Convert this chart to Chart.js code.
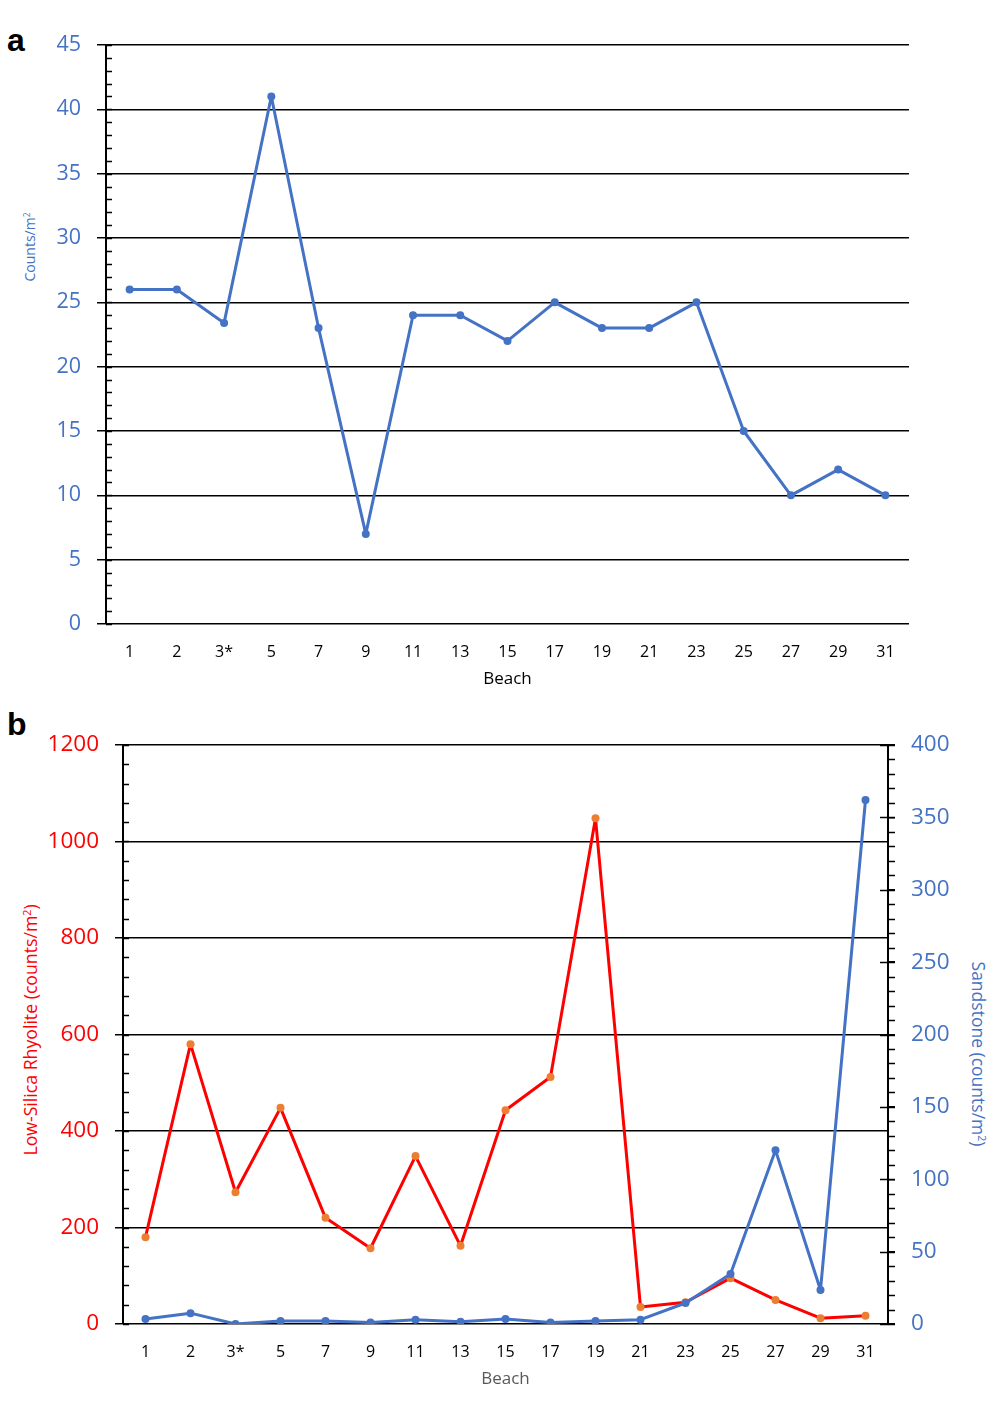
<!DOCTYPE html>
<html>
<head>
<meta charset="utf-8">
<script src="https://cdn.jsdelivr.net/npm/chart.js@4"></script>
<style>
  html, body { margin:0; padding:0; background:#fff; }
  body { width:992px; height:1421px; position:relative; overflow:hidden; font-family:"Open Sans", sans-serif; }
  .box { position:absolute; left:0; width:992px; }
  .lbl { position:absolute; font-family:"Liberation Sans", Arial, sans-serif; font-weight:bold; font-size:32px; color:#000; line-height:1; }
  .ytitle { position:absolute; white-space:nowrap; font-family:"Open Sans", sans-serif; line-height:1; }
  .ytitle sup { font-size:0.6em; vertical-align:0.55em; line-height:0; }
</style>
</head>
<body>
<div class="lbl" style="left:7px; top:24px;">a</div>
<div class="lbl" style="left:7px; top:708px;">b</div>

<div class="ytitle" style="left:30px; top:247px; transform:translate(-50%,-50%) rotate(-90deg); font-size:14px; color:#4472C4;">Counts/m<sup>2</sup></div>
<div class="ytitle" style="left:31px; top:1030px; transform:translate(-50%,-50%) rotate(-90deg); font-size:17.7px; color:#FF0000;">Low-Silica Rhyolite (counts/m<sup>2</sup>)</div>
<div class="ytitle" style="left:978px; top:1054px; transform:translate(-50%,-50%) rotate(90deg); font-size:17.5px; color:#4472C4;">Sandstone (counts/m<sup>2</sup>)</div>

<div class="box" style="top:0; height:700px;"><canvas id="ca" width="992" height="700"></canvas></div>
<div class="box" style="top:700px; height:721px;"><canvas id="cb" width="992" height="721"></canvas></div>

<script>
// ---- data ----
const beaches = ['1','2','3*','5','7','9','11','13','15','17','19','21','23','25','27','29','31'];
const totalCounts = [26,26,23.4,41,23,7,24,24,22,25,23,23,25,15,10,12,10];
const rhyolite = [180,580,273,448,220,157,348,162,443,512,1048,35,45,95,50,12,17];
const sandstone = [3.5,7.5,0,2,2,1,3,1.5,3.5,1,2,3,14.5,34.5,120,23.5,362];
const ticksA = { min:0, max:45, step:5, minor:1 };
const ticksBLeft = { min:0, max:1200, step:200, minor:40 };
const ticksBRight = { min:0, max:400, step:50, minor:10 };

const BLUE = '#4472C4';
const RED = '#FF0000';
const ORANGE = '#ED7D31';
const FONT = '"Open Sans", sans-serif';

function minorTicksPlugin(specs) {
  return {
    id: 'minorTicks',
    afterDraw(chart) {
      const ctx = chart.ctx;
      ctx.save();
      ctx.strokeStyle = '#000';
      ctx.lineWidth = 1.5;
      specs.forEach(s => {
        const sc = chart.scales[s.scaleId];
        const edge = s.side === 'left' ? sc.right : sc.left;
        for (let v = s.min; v <= s.max + 1e-9; v += s.step) {
          const y = Math.round(sc.getPixelForValue(v)) + 0.5;
          ctx.beginPath();
          ctx.moveTo(edge + s.from, y);
          ctx.lineTo(edge + s.to, y);
          ctx.stroke();
        }
        if (s.majorStep) {
          for (let v = s.min; v <= s.max + 1e-9; v += s.majorStep) {
            const y = Math.round(sc.getPixelForValue(v)) + 0.5;
            ctx.beginPath();
            ctx.moveTo(edge + s.majorFrom, y);
            ctx.lineTo(edge + s.majorTo, y);
            ctx.stroke();
          }
        }
      });
      ctx.restore();
    }
  };
}

Chart.defaults.font.family = FONT;
Chart.defaults.animation = false;
const plain = v => String(v);

const lineStyle = { borderWidth: 3, pointRadius: 4, pointBorderWidth: 0, tension: 0, borderJoinStyle: 'round', borderCapStyle: 'round' };

// ---- chart a ----
new Chart(document.getElementById('ca'), {
  type: 'line',
  data: {
    labels: beaches,
    datasets: [Object.assign({
      data: totalCounts,
      borderColor: BLUE,
      backgroundColor: BLUE,
      pointBackgroundColor: BLUE
    }, lineStyle)]
  },
  options: {
    responsive: false,
    layout: { autoPadding: false, padding: { top: 45, right: 83, left: 0, bottom: 0 } },
    plugins: { legend: { display: false }, tooltip: { enabled: false } },
    scales: {
      x: {
        offset: true,
        grid: { display: false, drawTicks: false },
        border: { display: false },
        ticks: { color: '#000', font: { size: 16 }, padding: 19, maxRotation: 0, autoSkip: false },
        title: { display: true, text: 'Beach', color: '#000', font: { size: 17 }, padding: { top: 0, bottom: 11 } },
        afterFit: s => { s.height = 76; }
      },
      y: {
        min: ticksA.min, max: ticksA.max,
        ticks: { stepSize: ticksA.step, color: BLUE, font: { size: 21.5 }, padding: 16, callback: plain },
        grid: { color: '#000', lineWidth: 1.5, tickLength: 9 },
        border: { display: true, color: '#000', width: 2 },
        afterFit: s => { s.width = 106; }
      }
    }
  },
  plugins: [minorTicksPlugin([{ scaleId: 'y', side: 'left', step: ticksA.minor, min: ticksA.min, max: ticksA.max, from: 0, to: 6 }])]
});

// ---- chart b ----
new Chart(document.getElementById('cb'), {
  type: 'line',
  data: {
    labels: beaches,
    datasets: [Object.assign({
      label: 'Sandstone',
      data: sandstone,
      yAxisID: 'y2',
      borderColor: BLUE,
      backgroundColor: BLUE,
      pointBackgroundColor: BLUE
    }, lineStyle), Object.assign({
      label: 'Low-Silica Rhyolite',
      data: rhyolite,
      yAxisID: 'y',
      borderColor: RED,
      backgroundColor: ORANGE,
      pointBackgroundColor: ORANGE
    }, lineStyle)]
  },
  options: {
    responsive: false,
    layout: { autoPadding: false, padding: { top: 45, right: 0, left: 0, bottom: 0 } },
    plugins: { legend: { display: false }, tooltip: { enabled: false } },
    scales: {
      x: {
        offset: true,
        grid: { display: false, drawTicks: false },
        border: { display: false },
        ticks: { color: '#000', font: { size: 16 }, padding: 19, maxRotation: 0, autoSkip: false },
        title: { display: true, text: 'Beach', color: '#595959', font: { size: 17 }, padding: { top: 0, bottom: 32 } },
        afterFit: s => { s.height = 97; }
      },
      y: {
        position: 'left',
        min: ticksBLeft.min, max: ticksBLeft.max,
        ticks: { stepSize: ticksBLeft.step, color: RED, font: { size: 22.5 }, padding: 16, callback: plain },
        grid: { color: '#000', lineWidth: 1.5, tickLength: 8 },
        border: { display: true, color: '#000', width: 2 },
        afterFit: s => { s.width = 123; }
      },
      y2: {
        position: 'right',
        min: ticksBRight.min, max: ticksBRight.max,
        ticks: { stepSize: ticksBRight.step, color: BLUE, font: { size: 22.5 }, padding: 16, callback: plain },
        grid: { drawOnChartArea: false, color: '#000', lineWidth: 1.5, tickLength: 7 },
        border: { display: true, color: '#000', width: 2 },
        afterFit: s => { s.width = 104; }
      }
    }
  },
  plugins: [minorTicksPlugin([
    { scaleId: 'y', side: 'left', step: ticksBLeft.minor, min: ticksBLeft.min, max: ticksBLeft.max, from: 0, to: 6 },
    { scaleId: 'y2', side: 'right', step: ticksBRight.minor, min: ticksBRight.min, max: ticksBRight.max, from: 0, to: 7,
      majorStep: ticksBRight.step, majorFrom: -8, majorTo: 0 }
  ])]
});
</script>
</body>
</html>
